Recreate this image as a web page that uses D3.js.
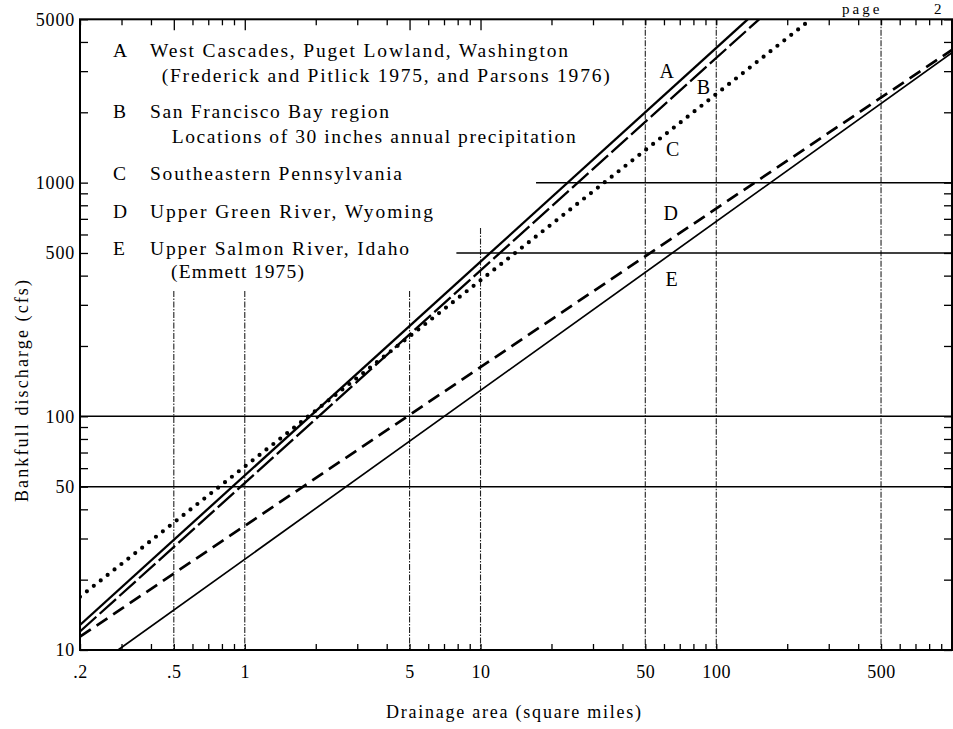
<!DOCTYPE html>
<html>
<head>
<meta charset="utf-8">
<script src="https://cdn.jsdelivr.net/npm/d3@7"></script>
<style>
  html, body { margin: 0; padding: 0; background: #fff; }
  svg { display: block; font-family: "Liberation Serif", "Times New Roman", serif; }
</style>
</head>
<body>
<svg id="chart" width="953" height="729"></svg>
<script>
// Regional curves of bankfull discharge against drainage area (log-log)
const regionKeys = ["A", "B", "C", "D", "E"];
const regionNames = [
  "West Cascades, Puget Lowland, Washington",
  "San Francisco Bay region",
  "Southeastern Pennsylvania",
  "Upper Green River, Wyoming",
  "Upper Salmon River, Idaho"
];
const regionNotes = [
  "(Frederick and Pitlick 1975, and Parsons 1976)",
  "Locations of 30 inches annual precipitation",
  "",
  "",
  "(Emmett 1975)"
];
// end points of each regional curve: drainage area (sq mi) and bankfull discharge (cfs)
const curveArea      = [[0.2, 136], [0.2, 152], [0.2, 252], [0.2, 1000], [0.29, 1000]];
const curveDischarge = [[12.8, 5000], [12.0, 5000], [16.9, 5000], [11.4, 3700], [10, 3600]];
// where the curve letters sit on the plot
const labelArea      = [61.7, 88.2, 65.4, 64.1, 64.7];
const labelDischarge = [2800, 2400, 1306, 695, 361];

// axis tick labels
const xTickLabels = [0.2, 0.5, 1, 5, 10, 50, 100, 500];
const yTickLabels = [10, 50, 100, 500, 1000, 5000];

// reference lines: verticals run up to a discharge, horizontals start at an area
const vGridArea = [0.5, 1, 5, 10, 50, 100, 500];
const vGridTop  = [344, 344, 344, 640, 5000, 5000, 5000];
const hGridDischarge = [50, 100, 500, 1000];
const hGridStart     = [0.2, 0.2, 7.9, 17.2];

// ---- layout & style ----
const svg = d3.select("#chart");
const x = d3.scaleLog().domain([0.2, 1000]).range([80, 952]);
const y = d3.scaleLog().domain([10, 5000]).range([650, 19.3]);
const [x0, x1] = x.range();
const [y0, y1] = y.range();

const lineStyles = [
  { width: 2.3, dash: null,     cap: "butt" },
  { width: 2.3, dash: "22,4.5", cap: "butt" },
  { width: 4.2, dash: "0,8.8",  cap: "round" },
  { width: 2.7, dash: "13,7",   cap: "butt" },
  { width: 1.7, dash: null,     cap: "butt" }
];

svg.append("defs").append("clipPath").attr("id", "plot-clip")
  .append("rect").attr("x", x0).attr("y", y1).attr("width", x1 - x0).attr("height", y0 - y1);

// reference grid
const grid = svg.append("g");
grid.selectAll("line.v").data(vGridArea).join("line")
  .attr("class", "v")
  .attr("x1", d => x(d)).attr("x2", d => x(d))
  .attr("y1", (d, i) => y(vGridTop[i])).attr("y2", y0)
  .attr("stroke", "#222").attr("stroke-width", 1.1)
  .attr("stroke-dasharray", "6,1.5,1.5,1.5");
grid.selectAll("line.h").data(hGridDischarge).join("line")
  .attr("class", "h")
  .attr("x1", (d, i) => x(hGridStart[i])).attr("x2", x1)
  .attr("y1", d => y(d)).attr("y2", d => y(d))
  .attr("stroke", "#000").attr("stroke-width", 1.5);

// inward tick marks on all four sides
const longTop = new Set([0.5, 1, 5, 10]);
function styleTicks(g) {
  g.select(".domain").remove();
  g.selectAll(".tick line").attr("stroke", "#000").attr("stroke-width", 1.3);
  g.selectAll(".tick text").remove();
}
svg.append("g").attr("transform", `translate(0,${y0})`)
  .call(d3.axisBottom(x).tickValues(x.ticks()).tickSize(-6).tickFormat(""))
  .call(styleTicks);
svg.append("g").attr("transform", `translate(0,${y1})`)
  .call(d3.axisTop(x).tickValues(x.ticks()).tickSize(-6).tickFormat(""))
  .call(styleTicks)
  .selectAll(".tick line").attr("y2", d => longTop.has(+d.toPrecision(3)) ? 11 : 6);
svg.append("g").attr("transform", `translate(${x0},0)`)
  .call(d3.axisLeft(y).tickValues(y.ticks()).tickSize(-8).tickFormat(""))
  .call(styleTicks);
svg.append("g").attr("transform", `translate(${x1},0)`)
  .call(d3.axisRight(y).tickValues(y.ticks()).tickSize(-8).tickFormat(""))
  .call(styleTicks);

// tick labels
const fmtArea = d => d < 1 ? String(d).replace(/^0/, "") : String(d);
const xLab = svg.append("g").attr("transform", `translate(0,${y0})`)
  .call(d3.axisBottom(x).tickValues(xTickLabels).tickSize(0).tickPadding(15).tickFormat(fmtArea));
xLab.select(".domain").remove();
xLab.selectAll("text").attr("font-family", "Liberation Serif").attr("font-size", 18)
  .attr("fill", "#000").attr("letter-spacing", 0.6);

const yLab = svg.append("g").attr("transform", `translate(${x0},0)`)
  .call(d3.axisLeft(y).tickValues(yTickLabels).tickSize(0).tickPadding(5).tickFormat(d3.format("d")));
yLab.select(".domain").remove();
yLab.selectAll("text").attr("font-family", "Liberation Serif").attr("font-size", 18)
  .attr("fill", "#000").attr("letter-spacing", 0.8);

// regional curves
const line = d3.line().x(d => x(d[0])).y(d => y(d[1]));
svg.append("g").attr("clip-path", "url(#plot-clip)")
  .selectAll("path").data(regionKeys).join("path")
  .attr("d", (k, i) => line(curveArea[i].map((a, j) => [a, curveDischarge[i][j]])))
  .attr("fill", "none").attr("stroke", "#000")
  .attr("stroke-width", (k, i) => lineStyles[i].width)
  .attr("stroke-dasharray", (k, i) => lineStyles[i].dash)
  .attr("stroke-linecap", (k, i) => lineStyles[i].cap);

// curve letters
svg.append("g").selectAll("text").data(regionKeys).join("text")
  .attr("x", (k, i) => x(labelArea[i])).attr("y", (k, i) => y(labelDischarge[i]))
  .attr("text-anchor", "middle").attr("font-size", 20).text(k => k);

// plot frame
svg.append("rect").attr("x", x0).attr("y", y1).attr("width", x1 - x0).attr("height", y0 - y1)
  .attr("fill", "none").attr("stroke", "#000").attr("stroke-width", 2);

// legend block
const legendRows = [
  { key: 0, baseline: 56.7, nameWidth: 418, noteX: 161.7, noteBaseline: 81.7, noteWidth: 448 },
  { key: 1, baseline: 118.3, nameWidth: 239, noteX: 171.7, noteBaseline: 143.3, noteWidth: 404 },
  { key: 2, baseline: 180, nameWidth: 252 },
  { key: 3, baseline: 218.3, nameWidth: 283 },
  { key: 4, baseline: 255, nameWidth: 259, noteX: 171, noteBaseline: 278.3, noteWidth: 133 }
];
const legend = svg.append("g").attr("font-size", 19.5);
legendRows.forEach(r => {
  legend.append("text").attr("x", 113).attr("y", r.baseline).text(regionKeys[r.key]);
  legend.append("text").attr("x", 150).attr("y", r.baseline)
    .attr("textLength", r.nameWidth).attr("lengthAdjust", "spacing")
    .text(regionNames[r.key]);
  if (regionNotes[r.key]) {
    legend.append("text").attr("x", r.noteX).attr("y", r.noteBaseline)
      .attr("textLength", r.noteWidth).attr("lengthAdjust", "spacing")
      .text(regionNotes[r.key]);
  }
});

// axis titles
svg.append("text").attr("x", 386).attr("y", 718).attr("font-size", 18)
  .attr("textLength", 255).attr("lengthAdjust", "spacing")
  .text("Drainage area (square miles)");
svg.append("text").attr("transform", "translate(28,502) rotate(-90)").attr("font-size", 18)
  .attr("textLength", 222).attr("lengthAdjust", "spacing")
  .text("Bankfull discharge (cfs)");

// running page header along the top edge
svg.append("text").attr("x", 842).attr("y", 14).attr("font-size", 15)
  .attr("letter-spacing", 3).text("page");
svg.append("text").attr("x", 934).attr("y", 14).attr("font-size", 15).text("2");
</script>
</body>
</html>
